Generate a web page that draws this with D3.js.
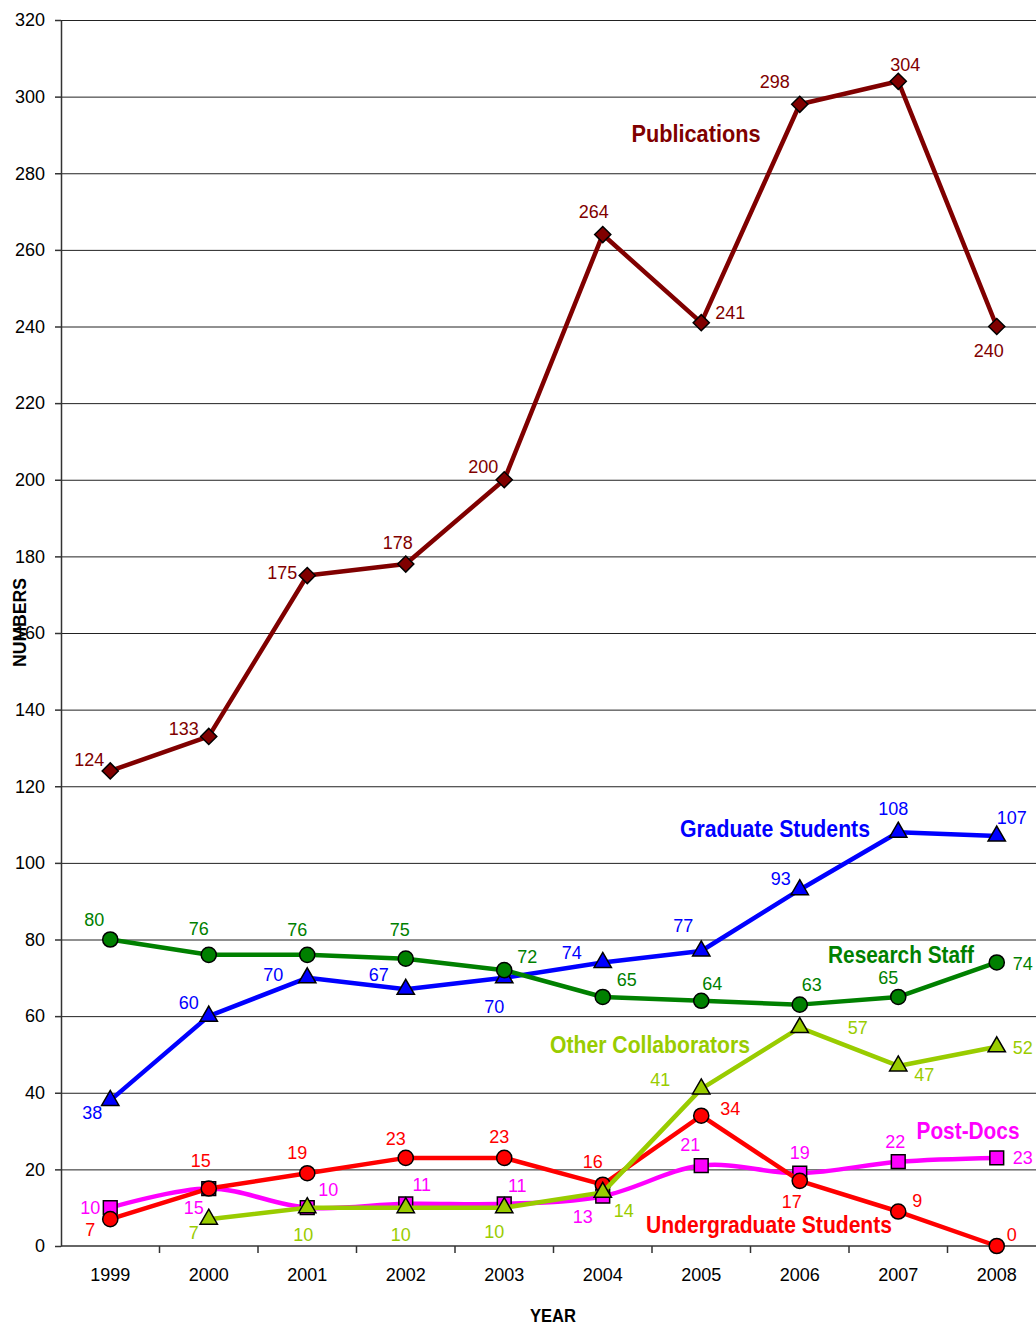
<!DOCTYPE html>
<html>
<head>
<meta charset="utf-8">
<script src="https://cdn.jsdelivr.net/npm/d3@7"></script>
<style>
  body { margin: 0; background: #fff; }
  svg { display: block; font-family: "Liberation Sans", Arial, sans-serif; }
  .axis text { font-size: 18px; fill: #000; }
  .axis path, .axis line { stroke: #333; stroke-width: 1.5; }
  .grid line { stroke: #222; stroke-width: 1; }
  .grid path { display: none; }
  .val { font-size: 18px; }
  .name { font-weight: bold; font-size: 24px; }
  .title { font-weight: bold; font-size: 18px; }
</style>
</head>
<body>
<svg class="chart"></svg>
<script>
// chart values
var years = ['1999','2000','2001','2002','2003','2004','2005','2006','2007','2008'];
var yTicks = [0,20,40,60,80,100,120,140,160,180,200,220,240,260,280,300,320];

var publications  = [124,133,175,178,200,264,241,298,304,240];
var gradStudents  = [38,60,70,67,70,74,77,93,108,107];
var researchStaff = [80,76,76,75,72,65,64,63,65,74];
var otherCollab   = [null,7,10,10,10,14,41,57,47,52];
var postDocs      = [10,15,10,11,11,13,21,19,22,23];
var undergrads    = [7,15,19,23,23,16,34,17,9,0];

var seriesNames = ['Publications','Graduate Students','Research Staff','Other Collaborators','Post-Docs','Undergraduate Students'];

// label offsets (dx, dy of text centre from point), kept apart from values
var offPub   = [[-21,-11],[-25,-8],[-25,-3],[-8,-21],[-21,-13],[-9,-23],[29,-10],[-25,-23],[7,-17],[-8,24]];
var offGrad  = [[-18,12],[-20,-13],[-34,-3],[-27,-15],[-10,29],[-31,-10],[-18,-25],[-19,-11],[-5,-24],[15,-18]];
var offStaff = [[-16,-20],[-10,-26],[-10,-25],[-6,-29],[23,-13],[24,-17],[11,-17],[12,-20],[-10,-19],[26,1]];
var offOther = [null,[-15,14],[-4,27],[-5,27],[-10,24],[21,18],[-41,-9],[58,0],[26,9],[26,1]];
var offPost  = [[-20,0],[-15,19],[21,-18],[16,-19],[13,-18],[-20,21],[-11,-21],[0,-21],[-3,-20],[26,0]];
var offUnder = [[-20,11],[-8,-28],[-10,-21],[-10,-19],[-5,-21],[-10,-23],[29,-7],[-8,21],[19,-11],[15,-11]];

var margin = {top: 20, right: 0, bottom: 80, left: 61},
	width = 1036 - margin.left - margin.right,
	height = 1326 - margin.top - margin.bottom;

var chart = d3.select('.chart')
	.attr('width', 1036)
	.attr('height', 1326);

var x = d3.scaleBand().domain(years).range([0, 985]).padding(0),
	y = d3.scaleLinear().domain([0, 320]).range([1226, 0]);

var g = chart.append('g')
	.attr('transform', 'translate(' + margin.left + ',' + margin.top + ')');

// gridlines
g.append('g')
	.attr('class', 'grid')
	.call(d3.axisLeft(y).tickValues(yTicks.slice(1)).tickSize(-width).tickFormat(''));

// x axis
var xAxis = g.append('g')
	.attr('class', 'axis')
	.attr('transform', 'translate(0,1226)')
	.call(d3.axisBottom(x).tickSize(0).tickPadding(22));
xAxis.select('.domain').attr('d', 'M0,0H' + width);
// tick marks between categories
xAxis.selectAll('.sep')
	.data(years)
	.enter().append('line')
	.attr('class', 'sep')
	.attr('x1', function(d) { return x(d) + x.bandwidth(); })
	.attr('x2', function(d) { return x(d) + x.bandwidth(); })
	.attr('y1', 0).attr('y2', 7);

// y axis
g.append('g')
	.attr('class', 'axis')
	.call(d3.axisLeft(y).tickValues(yTicks).tickSize(6).tickPadding(10).tickSizeOuter(0));

var cx = function(i) { return x(years[i]) + x.bandwidth() / 2; };

// a square turned 45 degrees, as the diamond marker
var diamond = {
	draw: function(context, size) {
		var r = Math.sqrt(size) / Math.SQRT2;
		context.moveTo(0, -r); context.lineTo(r, 0); context.lineTo(0, r); context.lineTo(-r, 0); context.closePath();
	}
};

var series = [
	{name: seriesNames[0], values: publications,  offs: offPub,   color: '#800000', marker: diamond,          size: 130, curve: d3.curveLinear},
	{name: seriesNames[1], values: gradStudents,  offs: offGrad,  color: '#0000ff', marker: d3.symbolTriangle, size: 130, curve: d3.curveLinear},
	{name: seriesNames[2], values: researchStaff, offs: offStaff, color: '#008000', marker: d3.symbolCircle,   size: 180, curve: d3.curveLinear},
	{name: seriesNames[3], values: otherCollab,   offs: offOther, color: '#99cc00', marker: d3.symbolTriangle, size: 130, curve: d3.curveLinear},
	{name: seriesNames[4], values: postDocs,      offs: offPost,  color: '#ff00ff', marker: d3.symbolSquare,   size: 190, curve: d3.curveCatmullRom.alpha(0)},
	{name: seriesNames[5], values: undergrads,    offs: offUnder, color: '#ff0000', marker: d3.symbolCircle,   size: 180, curve: d3.curveLinear}
];

// draw order: back to front
var order = [1, 2, 4, 5, 3, 0];

order.forEach(function(k) {
	var s = series[k];
	var pts = s.values.map(function(v, i) { return {i: i, v: v}; })
		.filter(function(d) { return d.v !== null; });

	var line = d3.line()
		.x(function(d) { return cx(d.i); })
		.y(function(d) { return y(d.v); })
		.curve(s.curve);

	g.append('path')
		.datum(pts)
		.attr('d', line)
		.attr('fill', 'none')
		.attr('stroke', s.color)
		.attr('stroke-width', 4.5)
		.attr('stroke-linejoin', 'round');

	g.selectAll('.m' + k)
		.data(pts)
	  .enter().append('path')
		.attr('class', 'm' + k)
		.attr('d', d3.symbol().type(s.marker).size(s.size))
		.attr('transform', function(d) { return 'translate(' + cx(d.i) + ',' + y(d.v) + ')'; })
		.attr('fill', s.color)
		.attr('stroke', '#000')
		.attr('stroke-width', 1.5);
});

// value labels on top
order.forEach(function(k) {
	var s = series[k];
	var pts = s.values.map(function(v, i) { return {i: i, v: v}; })
		.filter(function(d) { return d.v !== null; });
	g.selectAll('.v' + k)
		.data(pts)
	  .enter().append('text')
		.attr('class', 'val')
		.attr('fill', s.color)
		.attr('text-anchor', 'middle')
		.attr('x', function(d) { return cx(d.i) + s.offs[d.i][0]; })
		.attr('y', function(d) { return y(d.v) + s.offs[d.i][1]; })
		.attr('dy', '0.35em')
		.text(function(d) { return d.v; });
});

// series names (centre x, centre y in chart pixels, width)
var namePos = [[696, 134, 129], [775, 829, 190], [901, 955, 146], [650, 1045, 200], [968, 1131, 103], [769, 1225, 246]];
series.forEach(function(s, k) {
	chart.append('text')
		.attr('class', 'name')
		.attr('fill', s.color)
		.attr('x', namePos[k][0] - namePos[k][2] / 2)
		.attr('y', namePos[k][1])
		.attr('dy', '0.35em')
		.attr('textLength', namePos[k][2])
		.attr('lengthAdjust', 'spacingAndGlyphs')
		.text(s.name);
});

// axis titles
chart.append('text')
	.attr('class', 'title')
	.attr('transform', 'translate(26,667) rotate(-90)')
	.attr('textLength', 89)
	.attr('lengthAdjust', 'spacingAndGlyphs')
	.text('NUMBERS');

chart.append('text')
	.attr('class', 'title')
	.attr('x', 530)
	.attr('y', 1322)
	.attr('textLength', 46)
	.attr('lengthAdjust', 'spacingAndGlyphs')
	.text('YEAR');
</script>
</body>
</html>
